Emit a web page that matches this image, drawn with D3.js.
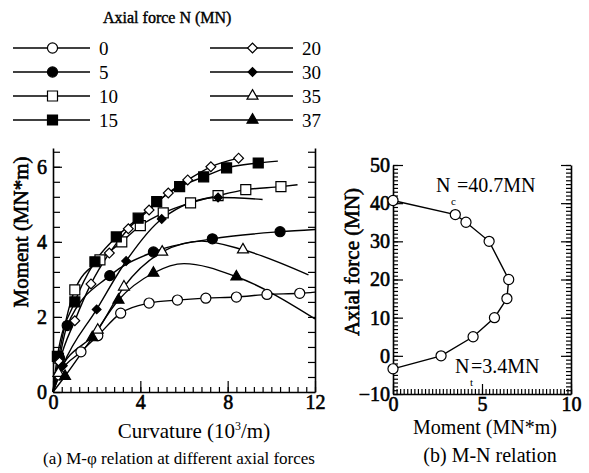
<!DOCTYPE html>
<html>
<head>
<meta charset="utf-8">
<script src="https://cdn.jsdelivr.net/npm/d3@7"></script>
<style>
  body { margin: 0; background: #fff; }
  text { font-family: "Liberation Serif", "Times New Roman", serif; fill: #000; }
  text.heavy { stroke: #000; stroke-width: 0.6px; }
</style>
</head>
<body>
<svg id="chart" width="589" height="473"></svg>
<script>
// Axial force levels (MN), one curve each
const axialForces = [0, 5, 10, 15, 20, 30, 35, 37];

// M-phi curves: [curvature (10^-3/m), moment (MN*m), 1 = test point with marker, 0 = curve only]
const curveN0 = [[0, 0, 0], [0.3, 0.45, 1], [1.28, 1.07, 1], [2.05, 1.5, 1], [3.1, 2.1, 1], [4.4, 2.37, 1],
  [5.7, 2.45, 1], [7.0, 2.5, 1], [8.4, 2.53, 1], [9.8, 2.6, 1], [11.3, 2.63, 1], [12, 2.66, 0]];
const curveN5 = [[0, 0, 0], [0.3, 0.9, 1], [0.65, 1.77, 1], [2.6, 3.1, 1], [4.6, 3.73, 1], [7.3, 4.08, 1],
  [10.4, 4.27, 1], [12, 4.33, 0]];
const curveN10 = [[0, 0, 0], [0.25, 0.9, 1], [1.0, 2.72, 1], [2.15, 3.52, 1], [3.15, 4.0, 1], [4.0, 4.43, 1],
  [5.05, 4.77, 1], [6.3, 5.04, 1], [7.56, 5.23, 1], [8.83, 5.39, 1], [10.44, 5.47, 1], [11.2, 5.52, 0]];
const curveN15 = [[0, 0, 0], [0.2, 0.95, 1], [1.0, 2.4, 1], [1.92, 3.47, 1], [2.9, 4.13, 1], [3.9, 4.63, 1],
  [4.75, 5.07, 1], [5.8, 5.47, 1], [6.9, 5.73, 1], [7.95, 5.97, 1], [9.4, 6.1, 1], [10.3, 6.15, 0]];
const curveN20 = [[0, 0, 0], [0.3, 0.8, 1], [1.0, 1.9, 1], [1.74, 2.88, 1], [2.58, 3.7, 1], [3.45, 4.35, 1],
  [4.4, 4.85, 1], [5.28, 5.3, 1], [6.17, 5.65, 1], [7.23, 6.0, 1], [8.5, 6.23, 1]];
const curveN30 = [[0, 0, 0], [0.45, 0.7, 1], [2.0, 2.2, 1], [3.35, 3.49, 1], [4.98, 4.61, 1], [7.56, 5.18, 1],
  [9.6, 5.13, 0]];
const curveN35 = [[0, 0, 0], [0.25, 0.5, 1], [2.05, 1.65, 1], [3.25, 2.8, 1], [5.0, 3.73, 1], [6.8, 4.02, 0],
  [8.7, 3.79, 1], [11.7, 3.12, 0]];
const curveN37 = [[0, 0, 0], [0.55, 0.42, 1], [1.8, 1.45, 1], [3.0, 2.45, 1], [4.6, 3.17, 1], [6.0, 3.42, 0],
  [8.4, 3.07, 1], [12, 1.95, 0]];
const curves = [curveN0, curveN5, curveN10, curveN15, curveN20, curveN30, curveN35, curveN37];

// M-N relation (peak moment vs axial force)
const mnMoment = [0, 3.5, 4.1, 5.4, 6.5, 6.4, 5.7, 4.5, 2.7, 0];
const mnAxial = [40.7, 37, 35, 30, 20, 15, 10, 5, 0, -3.4];

// tick labels
const curvatureTicks = [0, 4, 8, 12];
const momentTicksA = [0, 2, 4, 6];
const momentTicksB = [0, 5, 10];
const axialTicks = [-10, 0, 10, 20, 30, 40, 50];

// marker look for each curve (same order as axialForces)
const markerStyles = [
  { shape: "circle", filled: false }, { shape: "circle", filled: true },
  { shape: "square", filled: false }, { shape: "square", filled: true },
  { shape: "diamond", filled: false }, { shape: "diamond", filled: true },
  { shape: "triangle", filled: false }, { shape: "triangle", filled: true }
];

const svg = d3.select("#chart");
const fmt = d3.format("d");

// draw one marker at (x, y)
function drawMarker(g, style, x, y) {
  let sym, size, rot = 0;
  if (style.shape === "circle") { sym = d3.symbolCircle; size = 80; }
  else if (style.shape === "square") { sym = d3.symbolSquare; size = 100; }
  else if (style.shape === "diamond") { sym = d3.symbolSquare; size = style.filled ? 38 : 48; rot = 45; }
  else { sym = d3.symbolTriangle; size = 52; }
  g.append("path")
    .attr("d", d3.symbol(sym, size)())
    .attr("transform", `translate(${x},${y}) rotate(${rot})`)
    .attr("fill", style.filled ? "#000" : "#fff")
    .attr("stroke", "#000")
    .attr("stroke-width", 1.2);
}

function styleAxis(g, fontSize) {
  g.attr("font-family", null).attr("font-size", null);
  g.selectAll("path.domain").attr("stroke", "#000").attr("stroke-width", 1.6);
  g.selectAll("line").attr("stroke", "#000").attr("stroke-width", 1.2);
  g.selectAll("text")
    .attr("class", "heavy")
    .style("font-size", fontSize + "px")
    .attr("fill", "#000");
}

// ---------- Legend ----------
const legend = svg.append("g");
legend.append("text").attr("x", 103).attr("y", 23).attr("class", "heavy")
  .style("font-size", "16px").style("stroke-width", "0.4px")
  .text("Axial force N (MN)");

axialForces.forEach((n, i) => {
  const col = Math.floor(i / 4), row = i % 4;
  const x0 = col === 0 ? 13 : 210, x1 = col === 0 ? 90 : 293;
  const y = 48 + row * 24;
  legend.append("line").attr("x1", x0).attr("x2", x1).attr("y1", y).attr("y2", y)
    .attr("stroke", "#000").attr("stroke-width", 1.3);
  drawMarker(legend, markerStyles[i], (x0 + x1) / 2 + 1, y);
  legend.append("text").attr("x", x1 + 9).attr("y", y + 7)
    .style("font-size", "19px").text(n);
});

// ---------- (a) M-phi plot ----------
const xA = d3.scaleLinear().domain([0, 12]).range([53, 315]);
const yA = d3.scaleLinear().domain([0, 6.5]).range([392, 148]);

const gA = svg.append("g");

// bottom axis, ticks pointing up
const minorX = d3.range(0, 12.01, 0.4);
gA.append("g").attr("transform", `translate(0,${yA(0)})`)
  .call(d3.axisBottom(xA).tickValues(minorX).tickSize(-5).tickSizeOuter(0).tickFormat(""))
  .call(g => styleAxis(g, 18));
gA.append("g").attr("transform", `translate(0,${yA(0)})`)
  .call(d3.axisBottom(xA).tickValues(curvatureTicks).tickSize(-11).tickSizeOuter(0).tickPadding(3).tickFormat(fmt))
  .call(g => { styleAxis(g, 20); g.select("path.domain").remove(); });

// left and right axes, ticks pointing inward
const minorY = d3.range(0, 6.5, 0.4);
gA.append("g").attr("transform", `translate(${xA(0)},0)`)
  .call(d3.axisLeft(yA).tickValues(minorY).tickSize(-7).tickSizeOuter(0).tickFormat(""))
  .call(g => styleAxis(g, 18));
gA.append("g").attr("transform", `translate(${xA(0)},0)`)
  .call(d3.axisLeft(yA).tickValues(momentTicksA).tickSize(-9).tickSizeOuter(0).tickPadding(6).tickFormat(fmt))
  .call(g => { styleAxis(g, 20); g.select("path.domain").remove(); });
gA.append("g").attr("transform", `translate(${xA(12)},0)`)
  .call(d3.axisRight(yA).tickValues(minorY).tickSize(-7).tickSizeOuter(0).tickFormat(""))
  .call(g => styleAxis(g, 18));

// curves
const lineA = d3.line().x(d => xA(d[0])).y(d => yA(d[1])).curve(d3.curveMonotoneX);
curves.forEach((c, i) => {
  gA.append("path").attr("d", lineA(c))
    .attr("fill", "none").attr("stroke", "#000").attr("stroke-width", 1.4);
});
curves.forEach((c, i) => {
  c.filter(d => d[2] === 1).forEach(d => drawMarker(gA, markerStyles[i], xA(d[0]), yA(d[1])));
});

// titles
gA.append("text").attr("transform", `translate(28,232) rotate(-90)`).attr("class", "heavy")
  .attr("text-anchor", "middle").style("font-size", "21px")
  .text("Moment (MN*m)");
const curvTitle = gA.append("text").attr("x", 194).attr("y", 438)
  .attr("text-anchor", "middle").style("font-size", "21px");
curvTitle.append("tspan").text("Curvature (10");
curvTitle.append("tspan").attr("dy", -8).style("font-size", "12px").text("3");
curvTitle.append("tspan").attr("dy", 8).text("/m)");
gA.append("text").attr("x", 179).attr("y", 464)
  .attr("text-anchor", "middle").style("font-size", "17px")
  .text("(a) M-\u03c6 relation at different axial forces");

// ---------- (b) M-N plot ----------
const xB = d3.scaleLinear().domain([0, 10]).range([393, 571]);
const yB = d3.scaleLinear().domain([-10, 50]).range([394, 165]);

const gB = svg.append("g");

gB.append("g").attr("transform", `translate(0,${yB(-10)})`)
  .call(d3.axisBottom(xB).tickValues(d3.range(0, 10.01, 0.2)).tickSize(-5).tickSizeOuter(0).tickFormat(""))
  .call(g => styleAxis(g, 18));
gB.append("g").attr("transform", `translate(0,${yB(-10)})`)
  .call(d3.axisBottom(xB).tickValues(momentTicksB).tickSize(-10).tickSizeOuter(0).tickPadding(3).tickFormat(fmt))
  .call(g => { styleAxis(g, 20); g.select("path.domain").remove(); });

const minorN = d3.range(-10, 50.01, 1);
gB.append("g").attr("transform", `translate(${xB(0)},0)`)
  .call(d3.axisLeft(yB).tickValues(minorN).tickSize(-5).tickSizeOuter(0).tickFormat(""))
  .call(g => styleAxis(g, 18));
gB.append("g").attr("transform", `translate(${xB(0)},0)`)
  .call(d3.axisLeft(yB).tickValues(axialTicks).tickSize(-10).tickSizeOuter(0).tickPadding(3).tickFormat(fmt))
  .call(g => { styleAxis(g, 20); g.select("path.domain").remove(); });
gB.append("g").attr("transform", `translate(${xB(10)},0)`)
  .call(d3.axisRight(yB).tickValues(minorN).tickSize(-5).tickSizeOuter(0).tickFormat(""))
  .call(g => styleAxis(g, 18));
gB.append("g").attr("transform", `translate(${xB(10)},0)`)
  .call(d3.axisRight(yB).tickValues(axialTicks).tickSize(-10).tickSizeOuter(0).tickFormat(""))
  .call(g => { styleAxis(g, 18); g.select("path.domain").remove(); });

const mnPoints = mnMoment.map((m, i) => [m, mnAxial[i]]);
gB.append("path").attr("d", d3.line().x(d => xB(d[0])).y(d => yB(d[1]))(mnPoints))
  .attr("fill", "none").attr("stroke", "#000").attr("stroke-width", 1.4);
mnPoints.forEach(d => drawMarker(gB, markerStyles[0], xB(d[0]), yB(d[1])));

// annotations N_c and N_t
gB.append("text").attr("x", 436).attr("y", 192).style("font-size", "20px").text("N");
gB.append("text").attr("x", 451).attr("y", 205).style("font-size", "11px").text("c");
gB.append("text").attr("x", 457).attr("y", 192).style("font-size", "20px").text("=40.7MN");
gB.append("text").attr("x", 455).attr("y", 373).style("font-size", "20px").text("N");
gB.append("text").attr("x", 470).attr("y", 386).style("font-size", "11px").text("t");
gB.append("text").attr("x", 471).attr("y", 373).style("font-size", "20px").text("=3.4MN");

gB.append("text").attr("transform", `translate(359,262) rotate(-90)`).attr("class", "heavy")
  .attr("text-anchor", "middle").style("font-size", "21px")
  .text("Axial force (MN)");
gB.append("text").attr("x", 485).attr("y", 434)
  .attr("text-anchor", "middle").style("font-size", "20px").text("Moment (MN*m)");
gB.append("text").attr("x", 490).attr("y", 462)
  .attr("text-anchor", "middle").style("font-size", "20px").text("(b) M-N relation");
</script>
</body>
</html>
